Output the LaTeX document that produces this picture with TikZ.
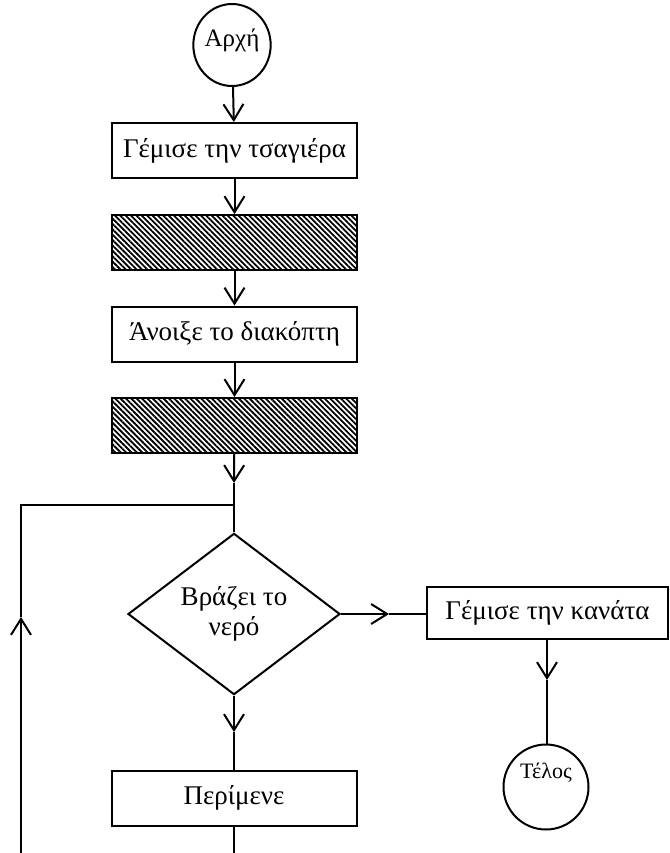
\documentclass[tikz,border=0pt]{standalone}
\usepackage{fontspec}
\setmainfont{Liberation Serif}
\usepackage{tikz}
\usetikzlibrary{
  arrows.meta,
  shapes.geometric,
  patterns.meta
}
\tikzset{
  stepbox/.style={
    draw,
    line width=1pt,
    minimum width=122.5pt,
    minimum height=27.5pt,
    inner sep=0pt,
    font=\fontsize{13.5}{15}\selectfont
  },
  hatchbox/.style={stepbox,pattern={Lines[angle=-45,distance=1.9pt,line width=0.9pt]}},
  termnode/.style={
    ellipse,
    draw,
    line width=1pt,
    inner sep=0pt
  },
  testnode/.style={
    diamond,
    draw,
    line width=1pt,
    inner sep=0pt,
    minimum width=106pt,
    minimum height=79.5pt,
    align=center,
    font=\fontsize{13.5}{15}\selectfont
  },
  flowarrow/.style={-{Straight Barb[length=8pt,width=10pt]},line width=1pt},
  flowline/.style={line width=1pt},
}

\begin{document}
\begin{tikzpicture}[x=0.5pt,y=-0.5pt]
  \useasboundingbox (0,0) rectangle (670,853);

  % Main column
  \node[termnode,minimum width=35pt,minimum height=41pt,text height=9pt,text depth=8pt,
        font=\fontsize{12.5}{14}\selectfont] (start) at (232,45) {Αρχή};
  \node[stepbox] (fill) at (234.5,150.5) {Γέμισε την τσαγιέρα};
  \node[hatchbox] (hatchA) at (234.5,242.5) {};
  \node[stepbox] (switch) at (234.5,334) {Άνοιξε το διακόπτη};
  \node[hatchbox] (hatchB) at (234.5,425.5) {};
  \node[testnode] (boil) at (234,614) {Βράζει το\\νερό};
  \node[stepbox] (wait) at (234,798) {Περίμενε};

  % Exit branch
  \node[stepbox,minimum width=120.5pt,minimum height=26pt] (jug) at (547.5,613) {Γέμισε την κανάτα};
  \node[termnode,minimum width=42.5pt,minimum height=42.5pt,text height=8pt,text depth=17pt,
        font=\fontsize{11}{12}\selectfont] (stop) at (546,787) {Τέλος};

  % Arrow tips and bends
  \coordinate (tipB) at (234,483);
  \coordinate (join) at (234,505);
  \coordinate (tipBoil) at (234,732);
  \coordinate (tipYes) at (389,614);
  \coordinate (tipJug) at (547,680);
  \coordinate (waitEnd) at (234,853);
  \coordinate (loopEnd) at (21,853);
  \coordinate (tipLoop) at (21,617);
  \coordinate (corner) at (21,505);

  \draw[flowarrow] (start) -- (fill);
  \draw[flowarrow] (fill) -- (hatchA);
  \draw[flowarrow] (hatchA) -- (switch);
  \draw[flowarrow] (switch) -- (hatchB);
  \draw[flowarrow] (hatchB) -- (tipB);
  \draw[flowline] (tipB) -- (boil.north);

  \draw[flowarrow] (boil.south) -- (tipBoil);
  \draw[flowline] (tipBoil) -- (wait.north);
  \draw[flowarrow] (boil.east) -- (tipYes);
  \draw[flowline] (tipYes) -- (jug.west |- tipYes);
  \draw[flowarrow] (jug.south -| tipJug) -- (tipJug);
  \draw[flowline] (tipJug) -- (stop.north -| tipJug);

  % Loop back
  \draw[flowline] (wait.south) -- (waitEnd);
  \draw[flowarrow] (loopEnd) -- (tipLoop);
  \draw[flowline] (tipLoop) -- (corner) -- (join);
\end{tikzpicture}
\end{document}
